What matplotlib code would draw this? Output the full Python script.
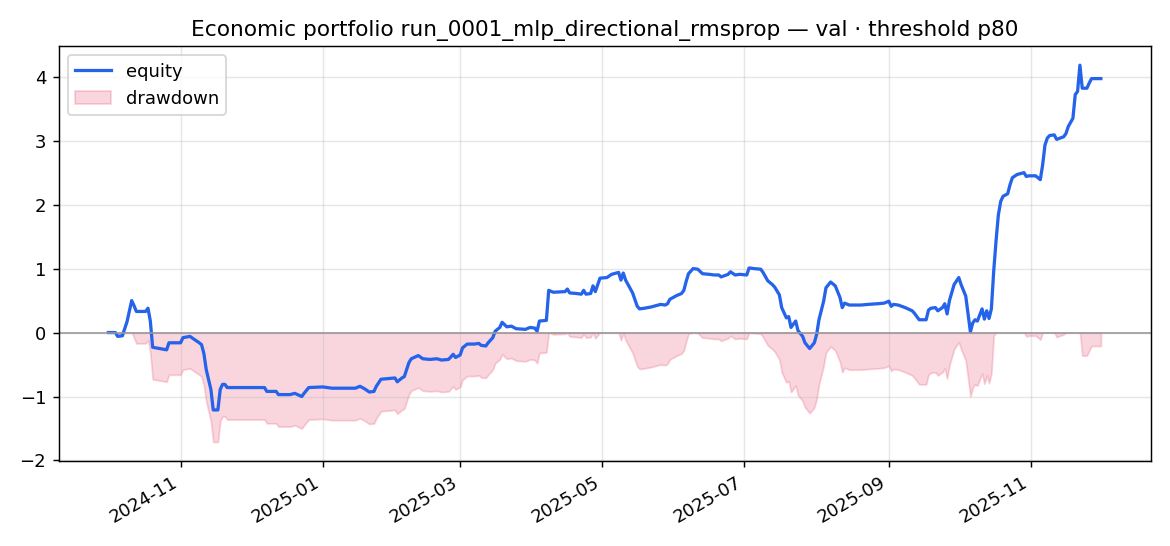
import numpy as np
import pandas as pd
import matplotlib
matplotlib.use('Agg')
import matplotlib.pyplot as plt

# equity curve (cumulative return, daily-ish samples)
dates = [
    '2024-10-01', '2024-10-04', '2024-10-05', '2024-10-07', '2024-10-08', '2024-10-09',
    '2024-10-11', '2024-10-12', '2024-10-13', '2024-10-17', '2024-10-18', '2024-10-19',
    '2024-10-20', '2024-10-26', '2024-10-27', '2024-11-01', '2024-11-02', '2024-11-05',
    '2024-11-07', '2024-11-09', '2024-11-10', '2024-11-11', '2024-11-12', '2024-11-14',
    '2024-11-15', '2024-11-17', '2024-11-18', '2024-11-19', '2024-11-20', '2024-11-21',
    '2024-12-07', '2024-12-08', '2024-12-12', '2024-12-13', '2024-12-18', '2024-12-20',
    '2024-12-23', '2024-12-24', '2024-12-26',
    '2025-01-01', '2025-01-05', '2025-01-15', '2025-01-17', '2025-01-19', '2025-01-21',
    '2025-01-23', '2025-01-24', '2025-01-26', '2025-01-29', '2025-02-01', '2025-02-02',
    '2025-02-04', '2025-02-05', '2025-02-07', '2025-02-08', '2025-02-11', '2025-02-13',
    '2025-02-16', '2025-02-19', '2025-02-21', '2025-02-24', '2025-02-26', '2025-02-27',
    '2025-03-01', '2025-03-02', '2025-03-04', '2025-03-07', '2025-03-09', '2025-03-10',
    '2025-03-12', '2025-03-13', '2025-03-15', '2025-03-16', '2025-03-18', '2025-03-19',
    '2025-03-21', '2025-03-23', '2025-03-25', '2025-03-29', '2025-03-31', '2025-04-02',
    '2025-04-03', '2025-04-04', '2025-04-07', '2025-04-08', '2025-04-10', '2025-04-15',
    '2025-04-16', '2025-04-17', '2025-04-20', '2025-04-22', '2025-04-23', '2025-04-24',
    '2025-04-26', '2025-04-27', '2025-04-28', '2025-04-30', '2025-05-03', '2025-05-05',
    '2025-05-08', '2025-05-09', '2025-05-10', '2025-05-11', '2025-05-14', '2025-05-16',
    '2025-05-17', '2025-05-19', '2025-05-22', '2025-05-26', '2025-05-28', '2025-05-29',
    '2025-05-30', '2025-06-02', '2025-06-04', '2025-06-05', '2025-06-06', '2025-06-07',
    '2025-06-09', '2025-06-11', '2025-06-13', '2025-06-16', '2025-06-18', '2025-06-20',
    '2025-06-21', '2025-06-24', '2025-06-25', '2025-06-27', '2025-06-29', '2025-07-02',
    '2025-07-03', '2025-07-05', '2025-07-08', '2025-07-09', '2025-07-11', '2025-07-13',
    '2025-07-14', '2025-07-16', '2025-07-17', '2025-07-19', '2025-07-20', '2025-07-21',
    '2025-07-23', '2025-07-24', '2025-07-26', '2025-07-27', '2025-07-29', '2025-07-31',
    '2025-08-01', '2025-08-02', '2025-08-04', '2025-08-05', '2025-08-07', '2025-08-09',
    '2025-08-11', '2025-08-12', '2025-08-13', '2025-08-15', '2025-08-18', '2025-08-20',
    '2025-08-23', '2025-08-27', '2025-08-30', '2025-09-01', '2025-09-02', '2025-09-03',
    '2025-09-05', '2025-09-08', '2025-09-11', '2025-09-12', '2025-09-14', '2025-09-17',
    '2025-09-18', '2025-09-19', '2025-09-21', '2025-09-22', '2025-09-24', '2025-09-25',
    '2025-09-26', '2025-09-27', '2025-09-29', '2025-10-01', '2025-10-02', '2025-10-04',
    '2025-10-05', '2025-10-06', '2025-10-07', '2025-10-08', '2025-10-09', '2025-10-11',
    '2025-10-12', '2025-10-13', '2025-10-14', '2025-10-15', '2025-10-16', '2025-10-17',
    '2025-10-18', '2025-10-19', '2025-10-20', '2025-10-22', '2025-10-23', '2025-10-24',
    '2025-10-26', '2025-10-29', '2025-10-30', '2025-10-31', '2025-11-03', '2025-11-05',
    '2025-11-06', '2025-11-07', '2025-11-08', '2025-11-09', '2025-11-11', '2025-11-12',
    '2025-11-15', '2025-11-16', '2025-11-17', '2025-11-19', '2025-11-20', '2025-11-21',
    '2025-11-22', '2025-11-23', '2025-11-25', '2025-11-26', '2025-11-27', '2025-12-01',
]
equity = [
    0.00, 0.00, -0.06, -0.05, 0.06, 0.17,
    0.50, 0.42, 0.33, 0.33, 0.38, 0.18,
    -0.23, -0.27, -0.16, -0.16, -0.08, -0.06,
    -0.11, -0.16, -0.19, -0.33, -0.58, -0.89,
    -1.21, -1.21, -0.89, -0.81, -0.81, -0.86,
    -0.86, -0.92, -0.92, -0.97, -0.97, -0.95,
    -1.00, -0.95, -0.86,
    -0.85, -0.87, -0.87, -0.84, -0.88, -0.93,
    -0.92, -0.84, -0.73, -0.72, -0.71, -0.77,
    -0.71, -0.69, -0.47, -0.41, -0.36, -0.41,
    -0.42, -0.41, -0.43, -0.42, -0.34, -0.39,
    -0.35, -0.24, -0.18, -0.18, -0.17, -0.20,
    -0.21, -0.16, -0.08, 0.02, 0.08, 0.16,
    0.09, 0.10, 0.06, 0.05, 0.08, 0.07,
    0.02, 0.18, 0.19, 0.66, 0.63, 0.64,
    0.68, 0.62, 0.61, 0.60, 0.66, 0.60,
    0.61, 0.73, 0.64, 0.85, 0.86, 0.91,
    0.94, 0.82, 0.93, 0.82, 0.62, 0.41,
    0.37, 0.38, 0.40, 0.44, 0.43, 0.45,
    0.52, 0.58, 0.61, 0.66, 0.80, 0.92,
    1.00, 0.99, 0.92, 0.91, 0.90, 0.90,
    0.87, 0.91, 0.95, 0.90, 0.91, 0.90,
    1.01, 1.00, 0.99, 0.94, 0.81, 0.75,
    0.71, 0.59, 0.39, 0.23, 0.25, 0.08,
    0.18, 0.03, -0.06, -0.16, -0.25, -0.16,
    -0.03, 0.20, 0.49, 0.70, 0.79, 0.73,
    0.55, 0.39, 0.46, 0.43, 0.43, 0.43,
    0.44, 0.45, 0.46, 0.49, 0.41, 0.44,
    0.43, 0.39, 0.34, 0.30, 0.20, 0.20,
    0.35, 0.38, 0.39, 0.34, 0.39, 0.45,
    0.29, 0.50, 0.75, 0.86, 0.75, 0.57,
    0.29, 0.01, 0.15, 0.20, 0.18, 0.37,
    0.21, 0.34, 0.22, 0.37, 0.96, 1.43,
    1.84, 2.05, 2.13, 2.17, 2.31, 2.42,
    2.47, 2.50, 2.44, 2.45, 2.45, 2.39,
    2.62, 2.93, 3.04, 3.08, 3.09, 3.02,
    3.06, 3.11, 3.22, 3.35, 3.72, 3.77,
    4.18, 3.82, 3.82, 3.90, 3.97, 3.97,
]

title = 'Economic portfolio run_0001_mlp_directional_rmsprop — val · threshold p80'

t = pd.to_datetime(dates)
eq = np.asarray(equity)
dd = eq - np.maximum.accumulate(eq)

fig, ax = plt.subplots(figsize=(9, 4.2), dpi=130)
ax.plot(t, eq, color='#2563eb', lw=1.8, label='equity')
ax.fill_between(t, dd, 0, color='#e11d48', alpha=0.18, label='drawdown')
ax.axhline(0, color='#999999', lw=0.9)
ax.set_title(title)
ax.grid(alpha=0.3)
ax.legend(loc='upper left')
fig.autofmt_xdate()
fig.tight_layout()
fig.savefig('out.png', dpi=130)
